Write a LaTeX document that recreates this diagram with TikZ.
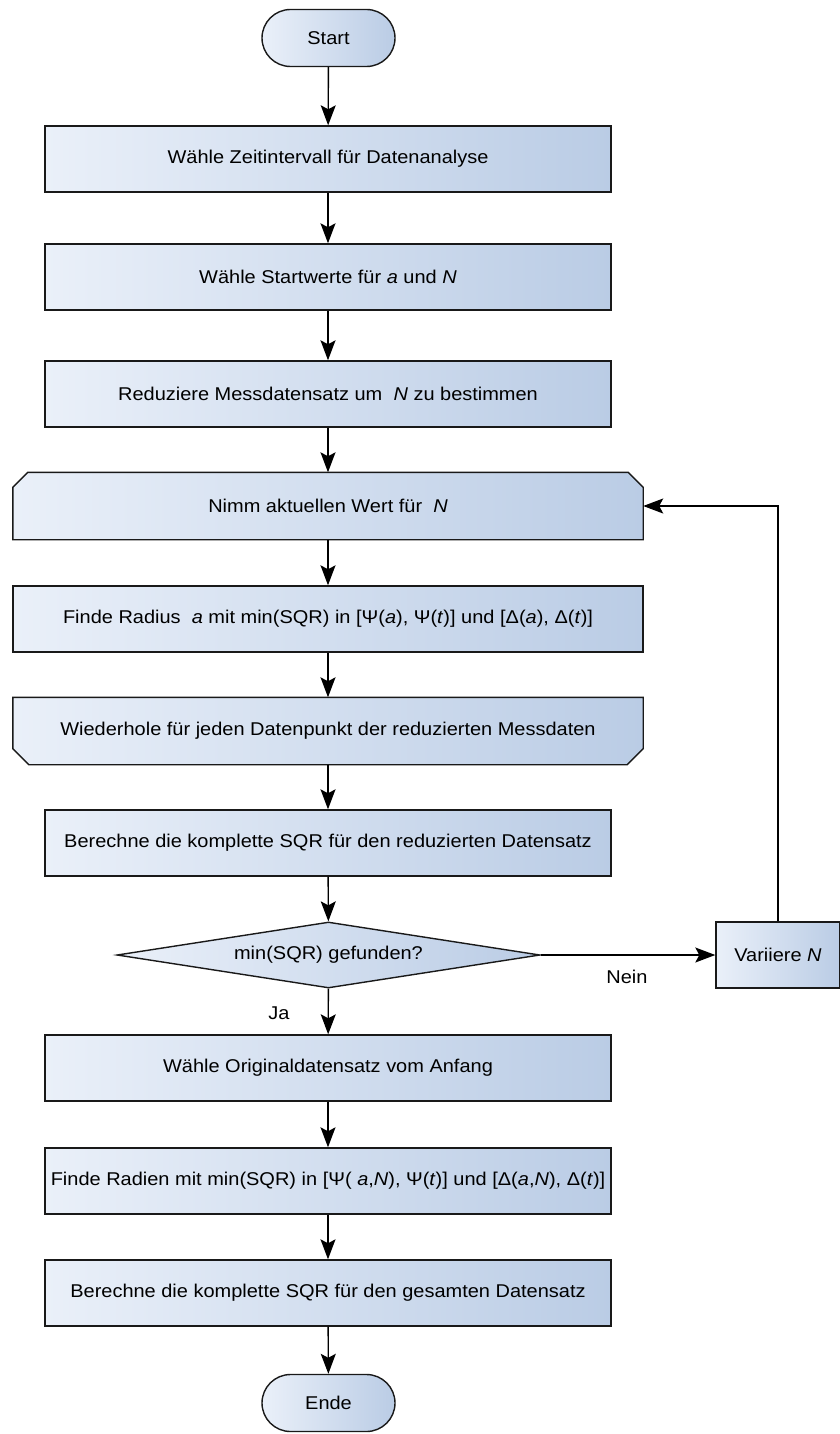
\documentclass[tikz,border=0pt]{standalone}
\usepackage{fontspec}
\setmainfont[FakeStretch=1.08]{Liberation Sans}
\usetikzlibrary{arrows.meta,shapes.geometric,shapes.misc,backgrounds}
\definecolor{boxL}{RGB}{234,240,249}
\definecolor{boxR}{RGB}{186,204,229}
\definecolor{edge}{RGB}{25,25,25}
\begin{document}
\begin{tikzpicture}[x=1pt,y=-1pt,
  every node/.style={font=\fontsize{18.5}{22}\selectfont, text=black},
  shade box/.style={draw=edge, line width=1.4pt, left color=boxL, right color=boxR},
  proc/.style={shade box, rectangle, minimum width=566pt, minimum height=66pt, inner sep=0pt},
  wideproc/.style={proc, minimum width=630pt},
  loopanchor/.style={rectangle, minimum width=630pt, minimum height=67pt, inner sep=0pt},
  term/.style={shade box, rounded rectangle, minimum width=133pt, minimum height=57pt, inner sep=0pt},
  decision/.style={shade box, diamond, aspect=6.4, minimum width=423pt, minimum height=66pt, inner sep=0pt},
  conn/.style={draw=black, line width=1.4pt, -{Stealth[length=20pt,width=15pt,inset=4pt]}},
  lbl/.style={inner sep=0pt}
]
\useasboundingbox (0,0) rectangle (840,1434);

\node[term] (start) at (328.5,38) {Start};
\node[proc] (b1) at (328,159) {Wähle Zeitintervall für Datenanalyse};
\node[proc] (b2) at (328,277) {Wähle Startwerte für \textit{a} und \textit{N}};
\node[proc] (b3) at (328,394) {Reduziere Messdatensatz um\ \ \textit{N} zu bestimmen};
\node[loopanchor] (b4) at (328,506) {Nimm aktuellen Wert für\ \ \textit{N}};
\node[wideproc] (b5) at (328,619) {Finde Radius\ \ \textit{a} mit min(SQR) in [Ψ(\textit{a}), Ψ(\textit{t})] und [Δ(\textit{a}), Δ(\textit{t})]};
\node[loopanchor] (b6) at (328,731) {Wiederhole für jeden Datenpunkt der reduzierten Messdaten};
\node[proc] (b7) at (328,843) {Berechne die komplette SQR für den reduzierten Datensatz};
\node[decision] (dec) at (328.5,955) {min(SQR) gefunden?};
\node[proc, minimum width=124pt] (var) at (778,955) {Variiere \textit{N}};
\node[proc] (b8) at (328,1068) {Wähle Originaldatensatz vom Anfang};
\node[proc] (b9) at (328,1181) {Finde Radien mit min(SQR) in [Ψ( \textit{a},\textit{N}), Ψ(\textit{t})] und [Δ(\textit{a},\textit{N}), Δ(\textit{t})]};
\node[proc] (b10) at (328,1293) {Berechne die komplette SQR für den gesamten Datensatz};
\node[term] (ende) at (328.5,1403) {Ende};

\begin{scope}[on background layer]
  % loop start: chamfered top corners
  \path[shade box] (b4.south west) -- ([yshift=-15pt]b4.north west) -- ([xshift=15pt]b4.north west)
    -- ([xshift=-15pt]b4.north east) -- ([yshift=-15pt]b4.north east) -- (b4.south east) -- cycle;
  % loop end: chamfered bottom corners
  \path[shade box] (b6.north west) -- (b6.north east) -- ([yshift=16pt]b6.south east)
    -- ([xshift=-16pt]b6.south east) -- ([xshift=16pt]b6.south west) -- ([yshift=16pt]b6.south west) -- cycle;
\end{scope}

\draw[conn] (start) -- (b1);
\draw[conn] (b1) -- (b2);
\draw[conn] (b2) -- (b3);
\draw[conn] (b3) -- (b4);
\draw[conn] (b4) -- (b5);
\draw[conn] (b5) -- (b6);
\draw[conn] (b6) -- (b7);
\draw[conn] (b7) -- (dec);
\draw[conn] (dec) -- (b8);
\draw[conn] (dec) -- (var);
\draw[conn] (var.north) |- (b4.east);
\draw[conn] (b8) -- (b9);
\draw[conn] (b9) -- (b10);
\draw[conn] (b10) -- (ende);

\node[lbl] (nein) at (627,977) {Nein};
\node[lbl] (ja) at (279,1013) {Ja};
\end{tikzpicture}
\end{document}
